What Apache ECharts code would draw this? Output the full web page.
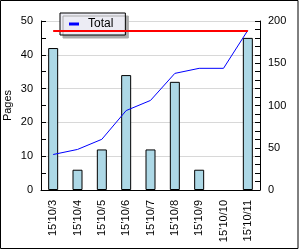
<!DOCTYPE html>
<html><head><meta charset="utf-8">
<script src="https://cdn.jsdelivr.net/npm/echarts@6/dist/echarts.min.js"></script>
<style>html,body{margin:0;padding:0;background:#fff}#c{width:300px;height:250px}</style>
</head><body><div id="c"></div>
<script>
const categories = ["15’10/3","15’10/4","15’10/5","15’10/6","15’10/7","15’10/8","15’10/9","15’10/10","15’10/11"];
const pages = [42, 6, 12, 34, 12, 32, 6, 0, 45];
const total = [42, 48, 60, 94, 106, 138, 144, 144, 189];
const goal = 189;
const leftTicks = {min: 0, max: 50, interval: 10};
const rightTicks = {min: 0, max: 200, interval: 50};

const font = "Liberation Sans";
const chart = echarts.init(document.getElementById('c'), null, {renderer: 'canvas'});
chart.setOption({
  animation: false,
  backgroundColor: '#fff',
  textStyle: {fontFamily: font},
  graphic: [{type: 'rect', shape: {x: 0.5, y: 0.5, width: 297.5, height: 248}, style: {fill: 'none', stroke: '#000', lineWidth: 1}, silent: true}],
  grid: {left: 41, right: 40, top: 21, bottom: 60, containLabel: false, outerBoundsMode: 'none'},
  legend: {
    left: 60, top: 13, padding: [5, 12, 5, 9],
    backgroundColor: '#ececf4', borderColor: '#000', borderWidth: 1,
    shadowColor: '#aaa', shadowOffsetX: 3, shadowOffsetY: 3, shadowBlur: 0,
    itemWidth: 10, itemHeight: 3, icon: 'rect',
    textStyle: {fontFamily: font, fontSize: 12, color: '#000', padding: [0, 0, 0, 4]},
    data: ['Total']
  },
  xAxis: {
    type: 'category', data: categories,
    axisLine: {lineStyle: {color: '#000'}},
    axisTick: {inside: true, length: 5, lineStyle: {color: '#000'}},
    axisLabel: {rotate: 90, margin: 10, fontSize: 11, color: '#000', fontFamily: font, interval: 0}
  },
  yAxis: [{
    type: 'value', min: leftTicks.min, max: leftTicks.max, interval: leftTicks.interval,
    name: 'Pages', nameLocation: 'middle', nameGap: 28, nameMoveOverlap: false,
    nameTextStyle: {fontSize: 11, color: '#000', fontFamily: font},
    axisLine: {show: true, lineStyle: {color: '#000'}},
    axisTick: {show: true, inside: true, length: 5, lineStyle: {color: '#000'}},
    minorTick: {show: true, splitNumber: 2, length: 5, lineStyle: {color: '#000'}},
    axisLabel: {fontSize: 11, color: '#000', margin: 8, fontFamily: font},
    splitLine: {show: true, lineStyle: {color: '#d8d8d8', width: 1}}
  }, {
    type: 'value', min: rightTicks.min, max: rightTicks.max, interval: rightTicks.interval,
    position: 'right',
    axisLine: {show: true, lineStyle: {color: '#000'}},
    axisTick: {show: true, inside: true, length: 5, lineStyle: {color: '#000'}},
    minorTick: {show: true, splitNumber: 5, length: 5, lineStyle: {color: '#000'}},
    axisLabel: {fontSize: 11, color: '#000', margin: 8, fontFamily: font},
    splitLine: {show: false}
  }],
  series: [{
    name: 'Pages', type: 'bar', yAxisIndex: 0, data: pages.map(v => v === 0 ? '-' : v), barWidth: 10,
    itemStyle: {color: '#add8e6', borderColor: '#000', borderWidth: 1}
  }, {
    name: 'Total', type: 'line', yAxisIndex: 1, data: total,
    showSymbol: false, symbol: 'none', color: '#0000ff',
    lineStyle: {color: '#0000ff', width: 1},
    markLine: {
      silent: true, symbol: ['none', 'none'], label: {show: false},
      lineStyle: {color: '#ff0000', width: 2, type: 'solid'},
      data: [[{coord: [0, goal]}, {coord: [categories.length - 1, goal]}]]
    }
  }]
});
</script></body></html>
